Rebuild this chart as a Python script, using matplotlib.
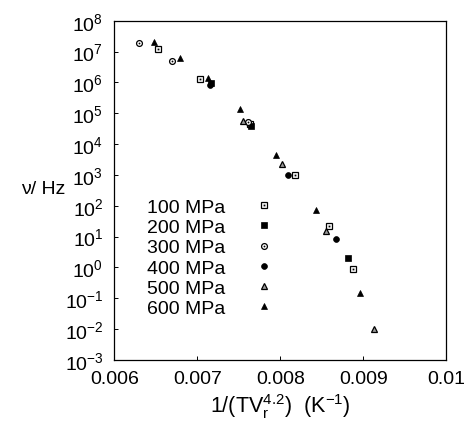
import numpy as np
import matplotlib
matplotlib.use("Agg")
import matplotlib.pyplot as plt
from matplotlib.legend_handler import HandlerTuple

plt.rcParams['font.family'] = ['Liberation Sans', 'DejaVu Sans']
plt.rcParams['mathtext.fontset'] = 'custom'
plt.rcParams['mathtext.rm'] = 'Liberation Sans'
plt.rcParams['mathtext.it'] = 'Liberation Sans:italic'

################### data: x = 1/(T Vr^4.2), y = log10(nu / Hz) ###################
labels = ['100 MPa', '200 MPa', '300 MPa', '400 MPa', '500 MPa', '600 MPa']

x100 = [0.006528, 0.007027, 0.007631, 0.008175, 0.008587, 0.008880]
y100 = [7.08, 6.11, 4.65, 3.01, 1.35, -0.04]

x200 = [0.007160, 0.007643, 0.008820]
y200 = [5.98, 4.59, 0.31]

x300 = [0.006302, 0.006690, 0.007607]
y300 = [7.28, 6.70, 4.72]

x400 = [0.007148, 0.008094, 0.008667]
y400 = [5.92, 3.01, 0.91]

x500 = [0.007553, 0.008022, 0.008546, 0.009134]
y500 = [4.75, 3.34, 1.18, -1.98]

x600 = [0.006483, 0.006785, 0.007124, 0.007511, 0.007943, 0.008426, 0.008964]
y600 = [7.31, 6.78, 6.15, 5.14, 3.65, 1.86, -0.82]

xticks = [0.006, 0.007, 0.008, 0.009, 0.01]
xtick_labels = ['0.006', '0.007', '0.008', '0.009', '0.01']

################### plot ###################
fig = plt.figure(figsize=(4.71, 4.27), dpi=100)
ax = fig.add_axes([0.243, 0.1546, 0.704, 0.7946])

ms = 4.2
fs = 14
# open square with a dot inside
h100a, = ax.plot(x100, 10**np.array(y100), 's', ms=ms, mfc='white', mec='black', mew=0.9, ls='none')
h100b, = ax.plot(x100, 10**np.array(y100), 's', ms=1.3, mfc='black', mec='black', mew=0, ls='none')
h200, = ax.plot(x200, 10**np.array(y200), 's', ms=ms, mfc='black', mec='black', mew=0.5, ls='none')
# open circle with a dot inside
h300a, = ax.plot(x300, 10**np.array(y300), 'o', ms=ms, mfc='white', mec='black', mew=0.9, ls='none')
h300b, = ax.plot(x300, 10**np.array(y300), 'o', ms=1.3, mfc='black', mec='black', mew=0, ls='none')
h400, = ax.plot(x400, 10**np.array(y400), 'o', ms=ms, mfc='black', mec='black', mew=0.5, ls='none')
h500, = ax.plot(x500, 10**np.array(y500), '^', ms=ms, mfc='0.6', mec='black', mew=0.9, ls='none')
h600, = ax.plot(x600, 10**np.array(y600), '^', ms=ms, mfc='black', mec='black', mew=0.5, ls='none')

ax.set_yscale('log')
ax.set_xlim(0.006, 0.01)
ax.set_ylim(1e-3, 1e8)
ax.set_xticks(xticks)
ax.set_xticklabels(xtick_labels)
ax.set_yticks([10.0**k for k in range(-3, 9)])
ax.minorticks_off()
ax.tick_params(direction='in', length=3, width=0.7, labelsize=fs, colors='black')
ax.tick_params(axis='y', pad=8)
ax.tick_params(axis='x', pad=7)
for s in ax.spines.values():
    s.set_linewidth(0.9)

ax.set_xlabel(r'1/(TV$_\mathregular{r}^{\mathregular{4.2}}$)  (K$^{\mathregular{-1}}$)', fontsize=15.5, labelpad=3)
ax.set_ylabel('ν/ Hz', fontsize=fs, rotation=0, ha='center', va='center')
ax.yaxis.set_label_coords(-0.216, 0.504)

ax.legend([(h100a, h100b), h200, (h300a, h300b), h400, h500, h600], labels,
          handler_map={tuple: HandlerTuple(ndivide=1, pad=0)},
          loc='upper left', bbox_to_anchor=(0.098, 0.476), frameon=False,
          markerfirst=False, fontsize=fs, borderpad=0, borderaxespad=0,
          labelspacing=0.13, handlelength=2.0, handletextpad=1.0, numpoints=1)

plt.savefig('out.png', dpi=100)
